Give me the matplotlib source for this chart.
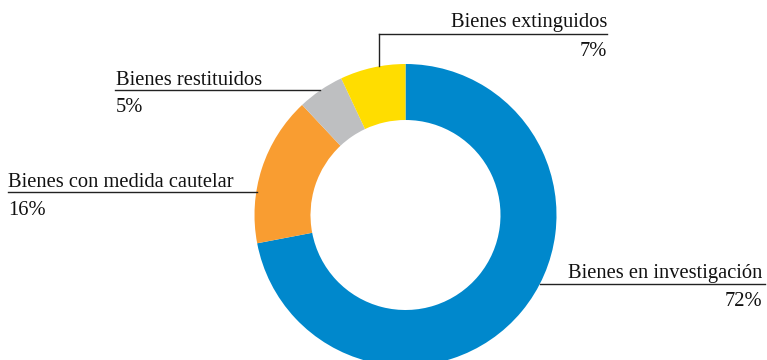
import matplotlib
matplotlib.use("Agg")
import matplotlib.pyplot as plt

labels = ["Bienes en investigación", "Bienes con medida cautelar",
          "Bienes restituidos", "Bienes extinguidos"]
shares = [72, 16, 5, 7]
colors = ["#0088CC", "#F99D31", "#BEBFC1", "#FFDD00"]

W, H = 767, 360
fig = plt.figure(figsize=(W / 100, H / 100), dpi=100)
ax = fig.add_axes([0, 0, 1, 1])
ax.axis("off")

cx, cy = 405.5, H - 215
r_out, r_in = 151, 95
ax.pie(shares, colors=colors, startangle=90, counterclock=False,
       center=(cx, cy), radius=r_out,
       wedgeprops=dict(width=r_out - r_in, linewidth=0))
ax.set_xlim(0, W)
ax.set_ylim(0, H)
ax.set_aspect("equal")

font = dict(family="Liberation Serif", fontsize=14.8, color="#111111")
line_kw = dict(color="#222222", linewidth=1.0)

def Y(y):
    return H - y

# Bienes en investigación (right, below)
ax.plot([540, 765], [Y(284), Y(284)], **line_kw)
ax.text(762, Y(278), labels[0], ha="right", va="baseline", **font)
ax.text(762, Y(306), f"{shares[0]}%", ha="right", va="baseline", **font)

# Bienes con medida cautelar (left)
ax.plot([8, 257], [Y(192), Y(192)], **line_kw)
ax.text(8, Y(187), labels[1], ha="left", va="baseline", **font)
ax.text(8, Y(215), f"{shares[1]}%", ha="left", va="baseline", **font)

# Bienes restituidos (upper left)
ax.plot([115, 320], [Y(90), Y(90)], **line_kw)
ax.text(116, Y(85), labels[2], ha="left", va="baseline", **font)
ax.text(116, Y(112), f"{shares[2]}%", ha="left", va="baseline", **font)

# Bienes extinguidos (top)
ax.plot([379, 607], [Y(34), Y(34)], **line_kw)
ax.plot([379, 379], [Y(34), Y(66)], **line_kw)
ax.text(607, Y(27), labels[3], ha="right", va="baseline", **font)
ax.text(607, Y(56), f"{shares[3]}%", ha="right", va="baseline", **font)

fig.savefig("out.png", dpi=100)
